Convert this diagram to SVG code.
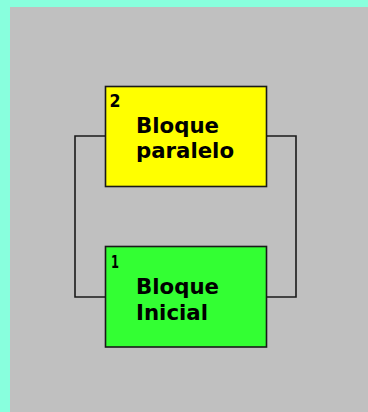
<svg xmlns="http://www.w3.org/2000/svg" width="368" height="412" viewBox="0 0 368 412">
<style>
.box{stroke:#1a1a1a;stroke-width:1.6}
.wire{fill:none;stroke:#1a1a1a;stroke-width:1.6}
.num{font-family:"DejaVu Sans",sans-serif;font-weight:bold;font-size:18px;fill:#000}
.lbl{font-family:"DejaVu Sans",sans-serif;font-weight:bold;font-size:22px;fill:#000}
</style>
<rect x="0" y="0" width="368" height="412" fill="#88ffdd"/>
<rect x="10" y="7" width="358" height="405" fill="#c0c0c0"/>
<g id="connectors">
<polyline class="wire" points="105,136 75,136 75,297 105,297"/>
<polyline class="wire" points="266,136 296,136 296,297 266,297"/>
</g>
<g id="node2">
<rect class="box" x="105.5" y="86.5" width="161" height="100" fill="#ffff00"/>
<text class="num" x="109.5" y="107" textLength="11" lengthAdjust="spacingAndGlyphs">2</text>
<text class="lbl" x="136" y="132.5" textLength="83" lengthAdjust="spacingAndGlyphs">Bloque</text>
<text class="lbl" x="136" y="157.5" textLength="98" lengthAdjust="spacingAndGlyphs">paralelo</text>
</g>
<g id="node1">
<rect class="box" x="105.5" y="246.5" width="161" height="100.5" fill="#33ff33"/>
<text class="num" x="111" y="267.5" textLength="8" lengthAdjust="spacingAndGlyphs">1</text>
<text class="lbl" x="136" y="293.5" textLength="83" lengthAdjust="spacingAndGlyphs">Bloque</text>
<text class="lbl" x="136" y="319.5" textLength="72" lengthAdjust="spacingAndGlyphs">Inicial</text>
</g>
</svg>
